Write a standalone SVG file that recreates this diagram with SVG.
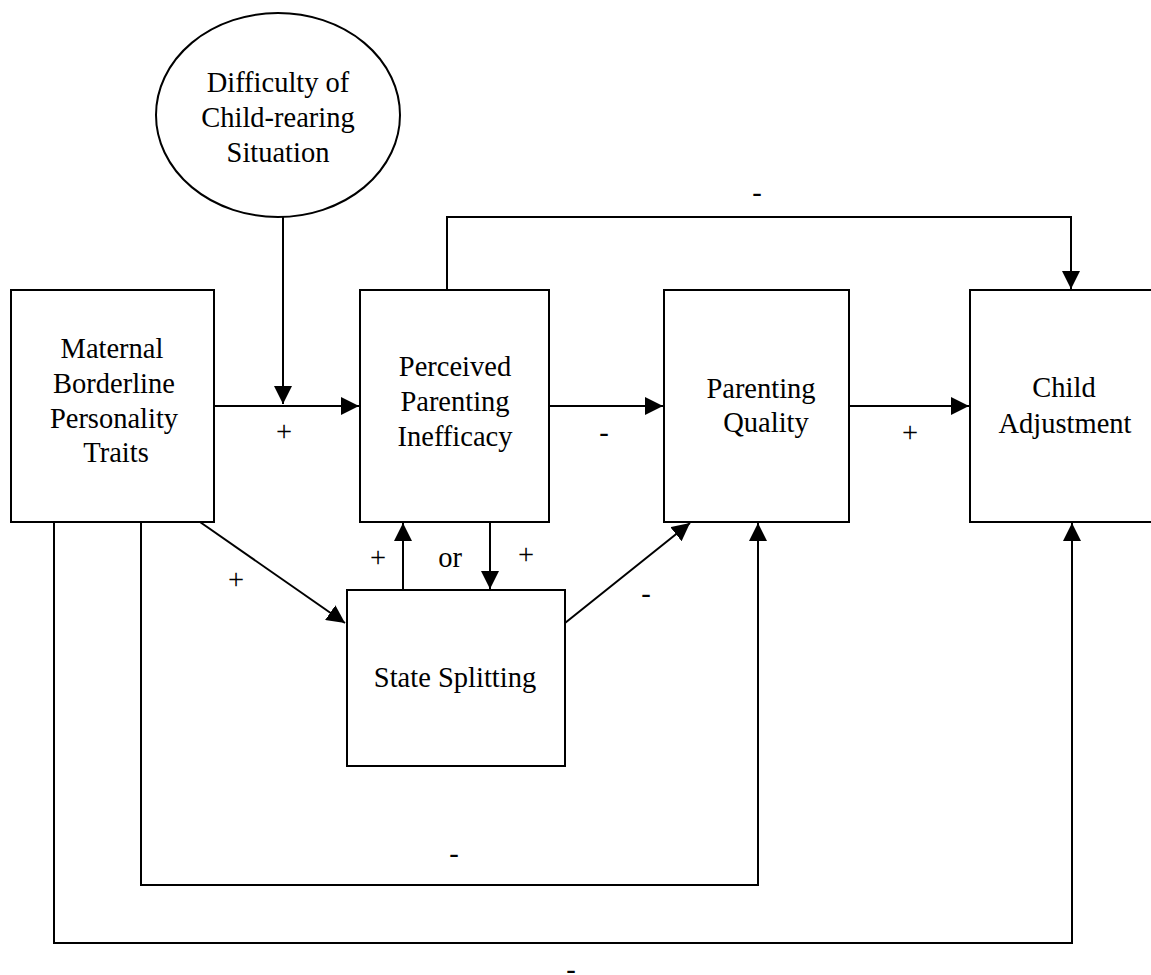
<svg xmlns="http://www.w3.org/2000/svg" width="1151" height="975" viewBox="0 0 1151 975">
<style>
  .box{fill:#fff;stroke:#000;stroke-width:2}
  .t{font-family:"Liberation Serif","Times New Roman",serif;font-size:28.5px;fill:#000;text-anchor:middle}
  .c{fill:none;stroke:#000;stroke-width:2}
</style>
<defs>
  <marker id="ah" markerUnits="userSpaceOnUse" markerWidth="18" markerHeight="18" refX="18" refY="9" orient="auto">
    <path d="M0,0 L18,9 L0,18 z" fill="#000"/>
  </marker>
</defs>
<rect width="1151" height="975" fill="#fff"/>

<g id="connectors">
  <path class="c" d="M283,217 V404" marker-end="url(#ah)"/>
  <path class="c" d="M214,406 H359" marker-end="url(#ah)"/>
  <path class="c" d="M549,406 H663" marker-end="url(#ah)"/>
  <path class="c" d="M849,406 H969" marker-end="url(#ah)"/>
  <path class="c" d="M447,290 V217 H1071 V289" marker-end="url(#ah)"/>
  <path class="c" d="M200,522 L345,623" marker-end="url(#ah)"/>
  <path class="c" d="M403,590 V523" marker-end="url(#ah)"/>
  <path class="c" d="M490,522 V589" marker-end="url(#ah)"/>
  <path class="c" d="M565,623 L690,523" marker-end="url(#ah)"/>
  <path class="c" d="M141,522 V885 H758 V523" marker-end="url(#ah)"/>
  <path class="c" d="M54,522 V943 H1072 V523" marker-end="url(#ah)"/>
  <text class="t" x="284" y="441">+</text>
  <text class="t" x="604" y="442">-</text>
  <text class="t" x="910" y="442">+</text>
  <text class="t" x="757" y="202">-</text>
  <text class="t" x="236" y="589">+</text>
  <text class="t" x="378" y="567">+</text>
  <text class="t" x="450" y="567">or</text>
  <text class="t" x="526" y="564">+</text>
  <text class="t" x="646" y="603">-</text>
  <text class="t" x="454" y="863">-</text>
  <text class="t" x="571" y="979">-</text>
</g>

<g id="difficulty">
  <ellipse class="box" cx="278" cy="115" rx="122" ry="102"/>
  <text class="t" x="278" y="92">Difficulty of</text>
  <text class="t" x="278" y="127">Child-rearing</text>
  <text class="t" x="278" y="162">Situation</text>
</g>

<g id="maternal">
  <rect class="box" x="11" y="290" width="203" height="232"/>
  <text class="t" x="112" y="358">Maternal</text>
  <text class="t" x="114" y="393">Borderline</text>
  <text class="t" x="114" y="428">Personality</text>
  <text class="t" x="116" y="462">Traits</text>
</g>

<g id="perceived">
  <rect class="box" x="360" y="290" width="189" height="232"/>
  <text class="t" x="455" y="376">Perceived</text>
  <text class="t" x="455" y="411">Parenting</text>
  <text class="t" x="455" y="446">Inefficacy</text>
</g>

<g id="parenting-quality">
  <rect class="box" x="664" y="290" width="185" height="232"/>
  <text class="t" x="761" y="398">Parenting</text>
  <text class="t" x="766" y="432">Quality</text>
</g>

<g id="child-adjustment">
  <rect class="box" x="970" y="290" width="190" height="232"/>
  <text class="t" x="1064" y="397">Child</text>
  <text class="t" x="1065" y="433">Adjustment</text>
</g>

<g id="state-splitting">
  <rect class="box" x="347" y="590" width="218" height="176"/>
  <text class="t" x="455" y="687">State Splitting</text>
</g>
</svg>
